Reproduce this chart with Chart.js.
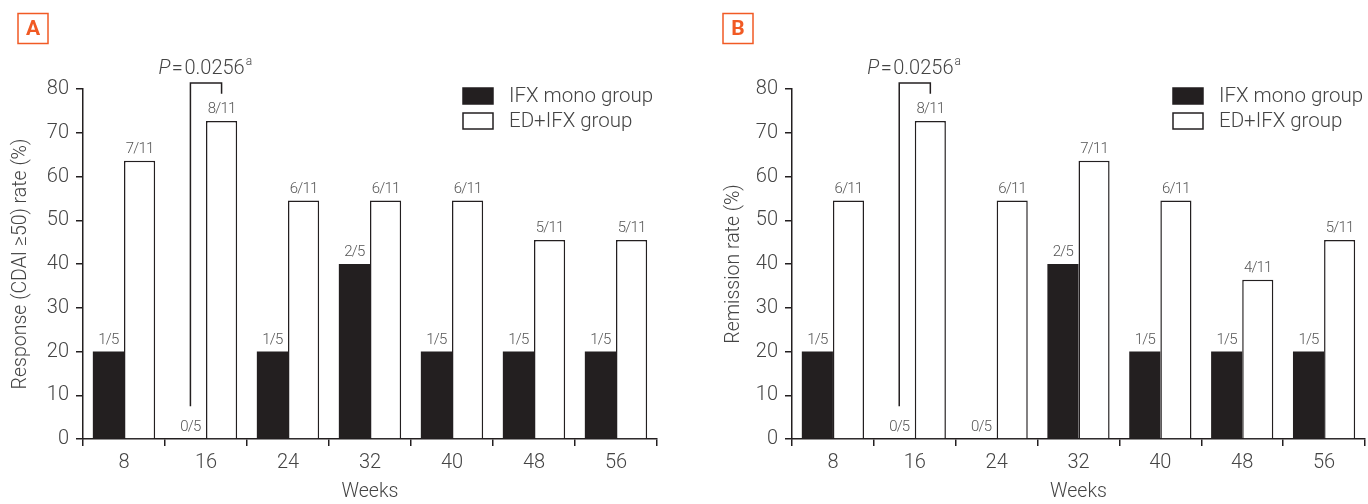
<!DOCTYPE html>
<html><head><meta charset="utf-8">
<script src="https://cdn.jsdelivr.net/npm/chart.js@4"></script>
<style>html,body{margin:0;padding:0;background:#fff;overflow:hidden}
#wrap{position:relative;width:1368px;height:504px}
canvas{position:absolute;top:0}
</style></head><body><div id="wrap"><canvas id="cA" width="684" height="504" style="left:0"></canvas><canvas id="cB" width="684" height="504" style="left:684px"></canvas></div>
<script>
const weeks = ['8','16','24','32','40','48','56'];
const seriesNames = ['IFX mono group','ED+IFX group'];
const respMono = [20,0,20,40,20,20,20];
const respEd = [63.6,72.7,54.5,54.5,54.5,45.5,45.5];
const respMonoLbl = ['1/5','0/5','1/5','2/5','1/5','1/5','1/5'];
const respEdLbl = ['7/11','8/11','6/11','6/11','6/11','5/11','5/11'];
const remMono = [20,0,0,40,20,20,20];
const remEd = [54.5,72.7,54.5,63.6,54.5,36.4,45.5];
const remMonoLbl = ['1/5','0/5','0/5','2/5','1/5','1/5','1/5'];
const remEdLbl = ['6/11','8/11','6/11','7/11','6/11','4/11','5/11'];
const yMin = 0, yMax = 80, yStep = 10;
const pValue = '0.0256';
const bracketCat = 1, bracketFrom = 7.5, bracketTop = 81.4, bracketTo = 78.9;

const FONT = 'Roboto, "Liberation Sans", sans-serif';
const TXT = '#444444';
const INK = '#231f20';
const ORANGE = '#f15a24';

function makePlugin(cfg){
  return {
    id:'extras'+cfg.letter,
    afterDatasetsDraw(chart){
      const ctx = chart.ctx;
      const y = chart.scales.y;
      ctx.save();
      // value labels
      ctx.fillStyle = '#555555';
      ctx.font = '300 15px ' + FONT;
      if ('letterSpacing' in ctx) ctx.letterSpacing = '-0.8px';
      ctx.textAlign = 'center'; ctx.textBaseline = 'alphabetic';
      chart.data.datasets.forEach((ds, di) => {
        const meta = chart.getDatasetMeta(di);
        meta.data.forEach((el, i) => {
          ctx.fillText(ds.fracLabels[i], el.x, el.y - 8);
        });
      });
      if ('letterSpacing' in ctx) ctx.letterSpacing = '0px';
      // bracket
      const m0 = chart.getDatasetMeta(0).data[bracketCat];
      const m1 = chart.getDatasetMeta(1).data[bracketCat];
      ctx.strokeStyle = INK; ctx.lineWidth = 1.5;
      ctx.beginPath();
      ctx.moveTo(m0.x, y.getPixelForValue(bracketFrom));
      ctx.lineTo(m0.x, y.getPixelForValue(bracketTop));
      ctx.lineTo(m1.x, y.getPixelForValue(bracketTop));
      ctx.lineTo(m1.x, y.getPixelForValue(bracketTo));
      ctx.stroke();
      // P text
      ctx.fillStyle = TXT;
      ctx.textAlign = 'left'; ctx.textBaseline = 'alphabetic';
      const ty = y.getPixelForValue(bracketTop) - 9;
      let tx = m0.x - 32;
      ctx.font = 'italic 300 20px ' + FONT;
      ctx.fillText('P', tx, ty);
      tx += ctx.measureText('P').width + 1.5;
      ctx.font = '300 20px ' + FONT;
      ctx.fillText('=', tx, ty);
      tx += ctx.measureText('=').width + 1.5;
      ctx.fillText(pValue, tx, ty);
      tx += ctx.measureText(pValue).width + 1;
      ctx.font = '300 12px ' + FONT;
      ctx.fillText('a', tx, ty - 9);
      // legend
      const lx = cfg.legendX;
      const rows = [{fill:INK, y:88}, {fill:'#fff', y:113}];
      ctx.font = '300 20.5px ' + FONT;
      ctx.textBaseline = 'middle';
      rows.forEach((r, i) => {
        ctx.fillStyle = r.fill;
        ctx.fillRect(lx, r.y, 30, 16);
        ctx.strokeStyle = INK; ctx.lineWidth = 1.5;
        ctx.strokeRect(lx, r.y, 30, 16);
        ctx.fillStyle = TXT;
        ctx.fillText(chart.data.datasets[i].label, lx + 46, r.y + 9);
      });
      // panel letter
      ctx.strokeStyle = ORANGE; ctx.lineWidth = 1.5;
      ctx.strokeRect(cfg.letterX, 13.5, 30, 30);
      ctx.fillStyle = ORANGE;
      ctx.font = 'bold 21px ' + FONT;
      ctx.textAlign = 'center'; ctx.textBaseline = 'middle';
      ctx.fillText(cfg.letter, cfg.letterX + 15, 29.5);
      ctx.restore();
    }
  };
}

function build(id, mono, ed, monoLbl, edLbl, cfg){
  return new Chart(document.getElementById(id), {
    type:'bar',
    data:{
      labels: weeks,
      datasets:[
        {label:seriesNames[0], data:mono, fracLabels:monoLbl, backgroundColor:INK, borderColor:INK, borderWidth:0},
        {label:seriesNames[1], data:ed, fracLabels:edLbl, backgroundColor:'#ffffff', borderColor:INK, borderWidth:1.5}
      ]
    },
    options:{
      responsive:false, animation:false, devicePixelRatio:1,
      layout:{padding:{top:89, left:0, right:cfg.right, bottom:0}},
      datasets:{bar:{categoryPercentage:0.76, barPercentage:1}},
      plugins:{legend:{display:false}, tooltip:{enabled:false}},
      scales:{
        x:{
          afterFit(s){ s.height = 65; },
          grid:{display:true, drawOnChartArea:false, drawTicks:true, tickLength:7, color:INK, lineWidth:1.5, offset:true},
          border:{display:true, color:INK, width:1.5},
          ticks:{color:TXT, font:{family:FONT, size:20, weight:'300'}, padding:5},
          title:{display:true, text:'Weeks', color:TXT, font:{family:FONT, size:19.5, weight:'300'}, padding:{top:0,bottom:0}}
        },
        y:{
          min:yMin, max:yMax,
          afterFit(s){ s.width = cfg.yWidth; },
          grid:{display:true, drawOnChartArea:false, drawTicks:true, tickLength:7, color:INK, lineWidth:1.5},
          border:{display:true, color:INK, width:1.5},
          ticks:{stepSize:yStep, color:TXT, font:{family:FONT, size:20, weight:'300'}, padding:7},
          title:{display:true, text:cfg.yTitle, color:TXT, font:{family:FONT, size:19.5, weight:'300'}, padding:{top:cfg.yTitlePad, bottom:0}}
        }
      }
    },
    plugins:[makePlugin(cfg)]
  });
}

build('cA', respMono, respEd, respMonoLbl, respEdLbl,
  {letter:'A', letterX:18, legendX:463, right:27, yWidth:83, yTitle:'Response (CDAI \u226550) rate (%)', yTitlePad:9});
build('cB', remMono, remEd, remMonoLbl, remEdLbl,
  {letter:'B', letterX:39, legendX:489, right:3, yWidth:108, yTitle:'Remission rate (%)', yTitlePad:38});
</script></body></html>
